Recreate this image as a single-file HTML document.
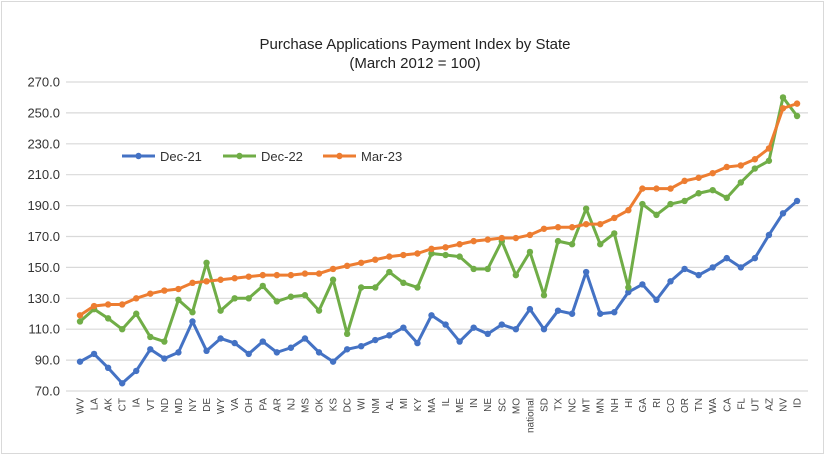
<!DOCTYPE html><html><head><style>body{margin:0;background:#fff}svg{display:block;font-family:"Liberation Sans",sans-serif}</style></head><body>
<svg id="s" width="838" height="458" xmlns="http://www.w3.org/2000/svg">
<rect x="1.5" y="1.5" width="822" height="452" fill="#fff" stroke="#d9d9d9"/>
<text x="415" y="49" font-size="15" text-anchor="middle" fill="#222">Purchase Applications Payment Index by State</text>
<text x="415" y="68" font-size="15" text-anchor="middle" fill="#222">(March 2012 = 100)</text>
<g id="g"></g>
</svg>
<script>
var g=document.getElementById('g'),h='';
var L="WV LA AK CT IA VT ND MD NY DE WY VA OH PA AR NJ MS OK KS DC WI NM AL MI KY MA IL ME IN NE SC MO national SD TX NC MT MN NH HI GA RI CO OR TN WA CA FL UT AZ NV ID".split(' ');
var A=[89,94,85,75,83,97,91,95,115,96,104,101,94,102,95,98,104,95,89,97,99,103,106,111,101,119,113,102,111,107,113,110,123,110,122,120,147,120,121,134,139,129,141,149,145,150,156,150,156,171,185,193];
var B=[115,123,117,110,120,105,102,129,121,153,122,130,130,138,128,131,132,122,142,107,137,137,147,140,137,159,158,157,149,149,167,145,160,132,167,165,188,165,172,137,191,184,191,193,198,200,195,205,214,219,260,248];
var C=[119,125,126,126,130,133,135,136,140,141,142,143,144,145,145,145,146,146,149,151,153,155,157,158,159,162,163,165,167,168,169,169,171,175,176,176,178,178,182,187,201,201,201,206,208,211,215,216,220,227,253,256];
function Y(v){return 391-(v-70)*1.545}function X(i){return 80+i*14.06}
for(var v=70;v<=270;v+=20){var y=Y(v);h+='<line x1="66" x2="808" y1="'+y+'" y2="'+y+'" stroke="#d9d9d9" stroke-width="1.2"/><text x="60" y="'+(y+4.5)+'" font-size="13" text-anchor="end" fill="#333">'+v.toFixed(1)+'</text>';}
L.forEach(function(l,i){h+='<text transform="translate('+(X(i)+3.5)+',398) rotate(-90)" font-size="10" text-anchor="end" fill="#444">'+l+'</text>';});
[[A,'#4472c4'],[B,'#70ad47'],[C,'#ed7d31']].forEach(function(s){var p=s[0].map(function(v,i){return X(i)+','+Y(v)}).join(' ');h+='<polyline points="'+p+'" fill="none" stroke="'+s[1]+'" stroke-width="3" stroke-linejoin="round"/>';s[0].forEach(function(v,i){h+='<circle cx="'+X(i)+'" cy="'+Y(v)+'" r="3.2" fill="'+s[1]+'"/>';});});
[['Dec-21','#4472c4',122],['Dec-22','#70ad47',223],['Mar-23','#ed7d31',323]].forEach(function(l){h+='<line x1="'+l[2]+'" x2="'+(l[2]+33)+'" y1="156" y2="156" stroke="'+l[1]+'" stroke-width="3"/><circle cx="'+(l[2]+16.5)+'" cy="156" r="3.2" fill="'+l[1]+'"/><text x="'+(l[2]+38)+'" y="161" font-size="13" fill="#333">'+l[0]+'</text>';});
g.innerHTML=h;
</script></body></html>
